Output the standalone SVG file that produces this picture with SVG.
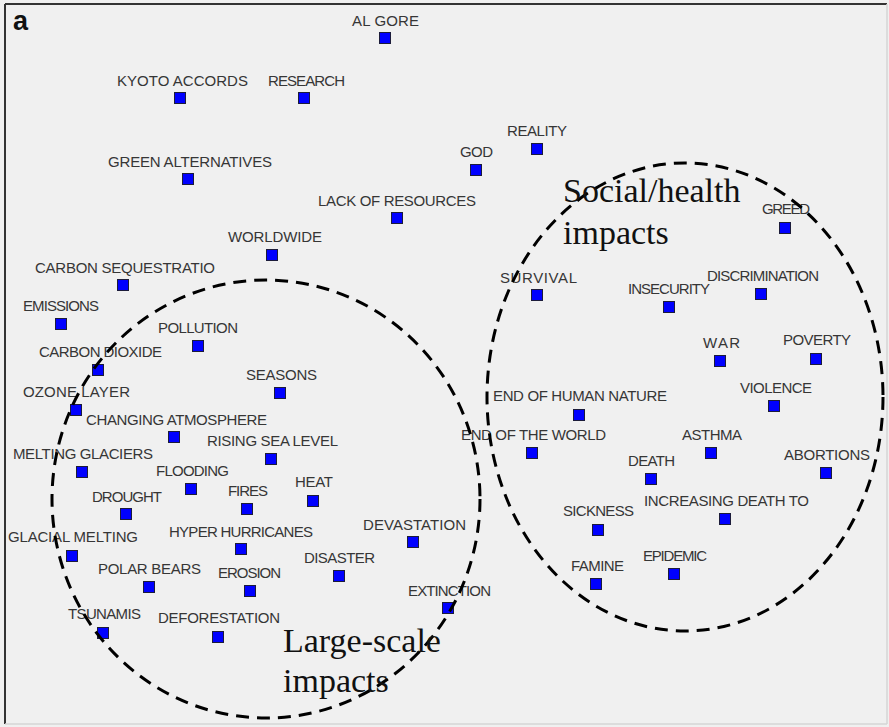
<svg xmlns="http://www.w3.org/2000/svg" width="889" height="727" viewBox="0 0 889 727">
<style>
.lbl{font-family:"Liberation Sans",Arial,sans-serif;font-size:15px;fill:#363636}
.sq{fill:#0000ff;stroke:#1c1c3a;stroke-width:1}
.grp{fill:none;stroke:#000;stroke-width:3;stroke-dasharray:13 8}
.big{font-family:"Liberation Serif","Times New Roman",serif;font-size:34px;fill:#111}
</style>
<rect x="0" y="0" width="889" height="727" fill="#f0f0f0"/>
<line x1="5" y1="4" x2="887" y2="4" stroke="#333" stroke-width="2"/>
<line x1="5" y1="4" x2="5" y2="724" stroke="#333" stroke-width="2"/>
<line x1="5" y1="724" x2="887" y2="724" stroke="#d6d6d6" stroke-width="1.5"/>
<line x1="887" y1="4" x2="887" y2="724" stroke="#d6d6d6" stroke-width="1.5"/>
<text x="13" y="30" font-family="Liberation Sans,Arial,sans-serif" font-size="27" font-weight="bold" fill="#111">a</text>

<g id="nodes">
<g id="n-algore"><text class="lbl" x="352" y="26" textLength="67">AL GORE</text><rect class="sq" x="379.5" y="32.5" width="11" height="11"/></g>
<g id="n-kyoto"><text class="lbl" x="117" y="86" textLength="131">KYOTO ACCORDS</text><rect class="sq" x="174.5" y="92.5" width="11" height="11"/></g>
<g id="n-research"><text class="lbl" x="268" y="86" textLength="77">RESEARCH</text><rect class="sq" x="298.5" y="92.5" width="11" height="11"/></g>
<g id="n-green"><text class="lbl" x="108" y="167" textLength="164">GREEN ALTERNATIVES</text><rect class="sq" x="182.5" y="173.5" width="11" height="11"/></g>
<g id="n-lack"><text class="lbl" x="318" y="206" textLength="158">LACK OF RESOURCES</text><rect class="sq" x="391.5" y="212.5" width="11" height="11"/></g>
<g id="n-worldwide"><text class="lbl" x="228" y="242" textLength="94">WORLDWIDE</text><rect class="sq" x="266.5" y="249.5" width="11" height="11"/></g>
<g id="n-god"><text class="lbl" x="460" y="157" textLength="33">GOD</text><rect class="sq" x="470.5" y="164.5" width="11" height="11"/></g>
<g id="n-reality"><text class="lbl" x="507" y="136" textLength="60">REALITY</text><rect class="sq" x="531.5" y="143.5" width="11" height="11"/></g>
<g id="n-greed"><text class="lbl" x="762" y="214" textLength="48">GREED</text><rect class="sq" x="779.5" y="222.5" width="11" height="11"/></g>
<g id="n-survival"><text class="lbl" x="500" y="283" textLength="77">SURVIVAL</text><rect class="sq" x="531.5" y="289.5" width="11" height="11"/></g>
<g id="n-insecurity"><text class="lbl" x="628" y="294" textLength="82">INSECURITY</text><rect class="sq" x="663.5" y="301.5" width="11" height="11"/></g>
<g id="n-discrimination"><text class="lbl" x="707" y="281" textLength="112">DISCRIMINATION</text><rect class="sq" x="755.5" y="288.5" width="11" height="11"/></g>
<g id="n-war"><text class="lbl" x="703" y="348" textLength="37">WAR</text><rect class="sq" x="714.5" y="355.5" width="11" height="11"/></g>
<g id="n-poverty"><text class="lbl" x="783" y="345" textLength="68">POVERTY</text><rect class="sq" x="810.5" y="353.5" width="11" height="11"/></g>
<g id="n-violence"><text class="lbl" x="740" y="393" textLength="72">VIOLENCE</text><rect class="sq" x="768.5" y="400.5" width="11" height="11"/></g>
<g id="n-endhuman"><text class="lbl" x="493" y="401" textLength="174">END OF HUMAN NATURE</text><rect class="sq" x="573.5" y="409.5" width="11" height="11"/></g>
<g id="n-endworld"><text class="lbl" x="461" y="440" textLength="145">END OF THE WORLD</text><rect class="sq" x="526.5" y="447.5" width="11" height="11"/></g>
<g id="n-asthma"><text class="lbl" x="682" y="440" textLength="60">ASTHMA</text><rect class="sq" x="705.5" y="447.5" width="11" height="11"/></g>
<g id="n-abortions"><text class="lbl" x="784" y="460" textLength="86">ABORTIONS</text><rect class="sq" x="820.5" y="467.5" width="11" height="11"/></g>
<g id="n-death"><text class="lbl" x="628" y="466" textLength="47">DEATH</text><rect class="sq" x="645.5" y="473.5" width="11" height="11"/></g>
<g id="n-increasing"><text class="lbl" x="644" y="506" textLength="165">INCREASING DEATH TO</text><rect class="sq" x="719.5" y="513.5" width="11" height="11"/></g>
<g id="n-sickness"><text class="lbl" x="563" y="516" textLength="71">SICKNESS</text><rect class="sq" x="592.5" y="524.5" width="11" height="11"/></g>
<g id="n-epidemic"><text class="lbl" x="643" y="561" textLength="64">EPIDEMIC</text><rect class="sq" x="668.5" y="568.5" width="11" height="11"/></g>
<g id="n-famine"><text class="lbl" x="571" y="571" textLength="53">FAMINE</text><rect class="sq" x="590.5" y="578.5" width="11" height="11"/></g>
<g id="n-extinction"><text class="lbl" x="408" y="596" textLength="83">EXTINCTION</text><rect class="sq" x="442.5" y="602.5" width="11" height="11"/></g>
<g id="n-carbonseq"><text class="lbl" x="35" y="273" textLength="180">CARBON SEQUESTRATIO</text><rect class="sq" x="117.5" y="279.5" width="11" height="11"/></g>
<g id="n-emissions"><text class="lbl" x="23" y="311" textLength="76">EMISSIONS</text><rect class="sq" x="55.5" y="318.5" width="11" height="11"/></g>
<g id="n-pollution"><text class="lbl" x="158" y="333" textLength="80">POLLUTION</text><rect class="sq" x="192.5" y="340.5" width="11" height="11"/></g>
<g id="n-co2"><text class="lbl" x="39" y="357" textLength="123">CARBON DIOXIDE</text><rect class="sq" x="92.5" y="364.5" width="11" height="11"/></g>
<g id="n-seasons"><text class="lbl" x="246" y="380" textLength="71">SEASONS</text><rect class="sq" x="274.5" y="387.5" width="11" height="11"/></g>
<g id="n-ozone"><text class="lbl" x="23" y="397" textLength="107">OZONE LAYER</text><rect class="sq" x="70.5" y="404.5" width="11" height="11"/></g>
<g id="n-changing"><text class="lbl" x="86" y="425" textLength="181">CHANGING ATMOSPHERE</text><rect class="sq" x="168.5" y="431.5" width="11" height="11"/></g>
<g id="n-rising"><text class="lbl" x="207" y="446" textLength="131">RISING SEA LEVEL</text><rect class="sq" x="265.5" y="453.5" width="11" height="11"/></g>
<g id="n-meltglac"><text class="lbl" x="13" y="459" textLength="140">MELTING GLACIERS</text><rect class="sq" x="76.5" y="466.5" width="11" height="11"/></g>
<g id="n-flooding"><text class="lbl" x="156" y="476" textLength="73">FLOODING</text><rect class="sq" x="185.5" y="483.5" width="11" height="11"/></g>
<g id="n-heat"><text class="lbl" x="295" y="487" textLength="38">HEAT</text><rect class="sq" x="307.5" y="495.5" width="11" height="11"/></g>
<g id="n-fires"><text class="lbl" x="228" y="496" textLength="40">FIRES</text><rect class="sq" x="241.5" y="503.5" width="11" height="11"/></g>
<g id="n-drought"><text class="lbl" x="92" y="502" textLength="70">DROUGHT</text><rect class="sq" x="120.5" y="508.5" width="11" height="11"/></g>
<g id="n-glacial"><text class="lbl" x="8" y="542" textLength="130">GLACIAL MELTING</text><rect class="sq" x="66.5" y="550.5" width="11" height="11"/></g>
<g id="n-hyper"><text class="lbl" x="169" y="537" textLength="144">HYPER HURRICANES</text><rect class="sq" x="235.5" y="543.5" width="11" height="11"/></g>
<g id="n-devastation"><text class="lbl" x="363" y="530" textLength="103">DEVASTATION</text><rect class="sq" x="407.5" y="536.5" width="11" height="11"/></g>
<g id="n-disaster"><text class="lbl" x="304" y="563" textLength="71">DISASTER</text><rect class="sq" x="333.5" y="570.5" width="11" height="11"/></g>
<g id="n-polar"><text class="lbl" x="98" y="574" textLength="103">POLAR BEARS</text><rect class="sq" x="143.5" y="581.5" width="11" height="11"/></g>
<g id="n-erosion"><text class="lbl" x="218" y="578" textLength="63">EROSION</text><rect class="sq" x="244.5" y="585.5" width="11" height="11"/></g>
<g id="n-tsunamis"><text class="lbl" x="68" y="619" textLength="73">TSUNAMIS</text><rect class="sq" x="97.5" y="627.5" width="11" height="11"/></g>
<g id="n-deforestation"><text class="lbl" x="158" y="623" textLength="122">DEFORESTATION</text><rect class="sq" x="212.5" y="631.5" width="11" height="11"/></g>
</g>

<g id="groups">
<ellipse class="grp" cx="266" cy="499" rx="214" ry="219"/>
<ellipse class="grp" cx="685" cy="397" rx="198" ry="234"/>
<text class="big" x="563" y="202">Social/health</text>
<text class="big" x="563" y="244">impacts</text>
<text class="big" x="283" y="652">Large-scale</text>
<text class="big" x="283" y="692">impacts</text>
</g>
</svg>
